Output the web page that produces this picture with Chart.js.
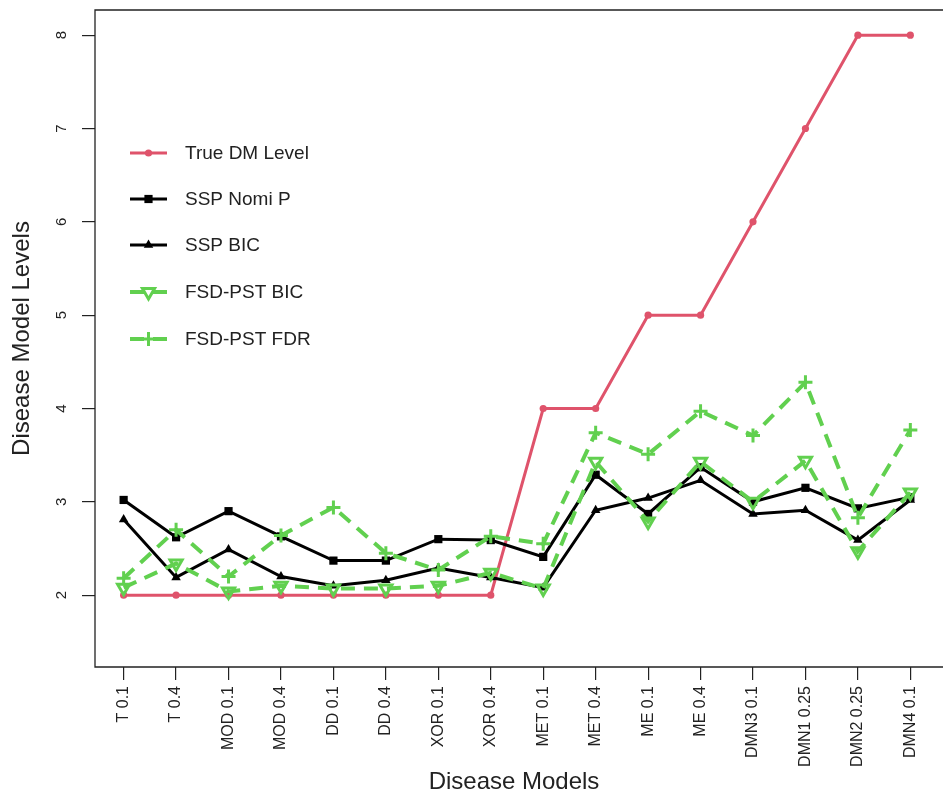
<!DOCTYPE html>
<html><head><meta charset="utf-8">
<script src="https://cdn.jsdelivr.net/npm/chart.js@4"></script>
<style>html,body{margin:0;padding:0;background:#fff}canvas{display:block}</style>
</head><body>
<canvas id="c" width="943" height="798"></canvas>
<script>
const categories = ['T 0.1','T 0.4','MOD 0.1','MOD 0.4','DD 0.1','DD 0.4','XOR 0.1','XOR 0.4','MET 0.1','MET 0.4','ME 0.1','ME 0.4','DMN3 0.1','DMN1 0.25','DMN2 0.25','DMN4 0.1'];
const yTickValues = [2,3,4,5,6,7,8];
const seriesNames = ['True DM Level','SSP Nomi P','SSP BIC','FSD-PST BIC','FSD-PST FDR'];
const trueDM   = [2,2,2,2,2,2,2,2,4,4,5,5,6,7,8,8];
const sspNomiP = [3.02,2.62,2.90,2.63,2.37,2.37,2.60,2.59,2.41,3.29,2.87,3.37,3.00,3.15,2.93,3.05];
const sspBIC   = [2.81,2.19,2.49,2.20,2.10,2.16,2.29,2.19,2.08,2.91,3.04,3.23,2.87,2.91,2.59,3.02];
const fsdBIC   = [2.08,2.34,2.04,2.10,2.07,2.07,2.10,2.24,2.07,3.43,2.79,3.43,3.00,3.44,2.47,3.10];
const fsdFDR   = [2.18,2.70,2.20,2.64,2.94,2.45,2.27,2.63,2.55,3.74,3.51,3.97,3.71,4.28,2.83,3.77];

const RED='#DF536B', GREEN='#61D04F', BLACK='#000000', TXT='#222222';
const FONT='"Liberation Sans", Arial, sans-serif';
const pts = arr => arr.map((v,i)=>({x:i,y:v}));

const datasets = [
  {label:seriesNames[0], data:pts(trueDM), borderColor:RED, backgroundColor:RED, borderWidth:3,
   pointStyle:'circle', pointRadius:3.6, pointBackgroundColor:RED, pointBorderColor:RED, pointBorderWidth:0, order:5},
  {label:seriesNames[1], data:pts(sspNomiP), borderColor:BLACK, backgroundColor:BLACK, borderWidth:3,
   pointStyle:'rect', pointRadius:5.8, pointBackgroundColor:BLACK, pointBorderColor:BLACK, pointBorderWidth:0, order:4},
  {label:seriesNames[2], data:pts(sspBIC), borderColor:BLACK, backgroundColor:BLACK, borderWidth:3,
   pointStyle:'triangle', pointRadius:5.5, pointBackgroundColor:BLACK, pointBorderColor:BLACK, pointBorderWidth:0, order:3},
  {label:seriesNames[3], data:pts(fsdBIC), borderColor:GREEN, backgroundColor:GREEN, borderWidth:4, borderDash:[14,9],
   pointStyle:'triangle', pointRotation:180, pointRadius:7, pointBackgroundColor:'rgba(0,0,0,0)', pointBorderColor:GREEN, pointBorderWidth:3, order:2},
  {label:seriesNames[4], data:pts(fsdFDR), borderColor:GREEN, backgroundColor:GREEN, borderWidth:4, borderDash:[14,9],
   pointStyle:'cross', pointRadius:7, pointBackgroundColor:GREEN, pointBorderColor:GREEN, pointBorderWidth:3, order:1}
];

function drawMarker(ctx, ds, x, y){
  const r = ds.pointRadius, style = ds.pointStyle, rot = (ds.pointRotation||0)*Math.PI/180;
  ctx.save();
  ctx.setLineDash([]);
  ctx.lineWidth = ds.pointBorderWidth;
  ctx.strokeStyle = ds.pointBorderColor;
  ctx.fillStyle = ds.pointBackgroundColor;
  ctx.beginPath();
  if (style==='circle'){ ctx.arc(x,y,r,0,Math.PI*2); }
  else if (style==='rect'){ const s=Math.SQRT1_2*r; ctx.rect(x-s,y-s,2*s,2*s); }
  else if (style==='triangle'){
    let a = rot;
    ctx.moveTo(x+Math.sin(a)*r, y-Math.cos(a)*r);
    a += 2*Math.PI/3; ctx.lineTo(x+Math.sin(a)*r, y-Math.cos(a)*r);
    a += 2*Math.PI/3; ctx.lineTo(x+Math.sin(a)*r, y-Math.cos(a)*r);
    ctx.closePath();
  } else if (style==='cross'){
    ctx.moveTo(x,y-r); ctx.lineTo(x,y+r); ctx.moveTo(x-r,y); ctx.lineTo(x+r,y);
  }
  if (style!=='cross') ctx.fill();
  if (ds.pointBorderWidth>0) ctx.stroke();
  ctx.restore();
}

const framePlugin = {
  id:'frame',
  beforeDatasetsDraw(chart){
    const {ctx, chartArea:a} = chart;
    ctx.save();
    ctx.strokeStyle='#222'; ctx.lineWidth=1.3;
    ctx.beginPath();
    ctx.moveTo(chart.width+2, a.top); ctx.lineTo(a.left, a.top); ctx.lineTo(a.left, a.bottom); ctx.lineTo(chart.width+2, a.bottom);
    ctx.stroke();
    ctx.restore();
  }
};

const yLabelPlugin = {
  id:'ylabels',
  afterDraw(chart){
    const {ctx} = chart; const s = chart.scales.y;
    ctx.save();
    ctx.fillStyle=TXT; ctx.font='15px '+FONT; ctx.textAlign='center'; ctx.textBaseline='middle';
    yTickValues.forEach(v=>{
      const y = s.getPixelForValue(v);
      ctx.save(); ctx.translate(62,y); ctx.rotate(-Math.PI/2); ctx.fillText(String(v),0,0); ctx.restore();
    });
    ctx.restore();
  }
};

const legendPlugin = {
  id:'customLegend',
  afterDraw(chart){
    const {ctx} = chart;
    const ys = [153,199,245,292,339];
    chart.data.datasets.forEach((ds,i)=>{
      const y = ys[i];
      ctx.save();
      ctx.strokeStyle = ds.borderColor; ctx.lineWidth = ds.borderWidth;
      ctx.setLineDash(ds.borderDash||[]);
      ctx.beginPath(); ctx.moveTo(130,y); ctx.lineTo(167,y); ctx.stroke();
      ctx.restore();
      drawMarker(ctx, ds, 148.5, y);
      ctx.save();
      ctx.fillStyle=TXT; ctx.font='19px '+FONT; ctx.textAlign='left'; ctx.textBaseline='middle';
      ctx.fillText(ds.label, 185, y+1);
      ctx.restore();
    });
  }
};

new Chart(document.getElementById('c'), {
  type:'line',
  data:{datasets},
  options:{
    responsive:false, animation:false,
    layout:{padding:{top:8,right:0,bottom:0,left:0}},
    elements:{line:{tension:0, fill:false}},
    plugins:{legend:{display:false}, tooltip:{enabled:false}},
    scales:{
      x:{type:'linear', min:-0.546, max:15.432,
        afterBuildTicks:s=>{ s.ticks = categories.map((c,i)=>({value:i})); },
        afterFit:s=>{ s.height = 131; },
        ticks:{autoSkip:false, minRotation:90, maxRotation:90, padding:6, color:TXT,
               font:{family:FONT,size:16}, callback:v=>categories[v]},
        grid:{drawOnChartArea:false, drawTicks:true, tickLength:13, color:'#222', lineWidth:1.2},
        border:{display:false},
        title:{display:true, text:'Disease Models', color:TXT, font:{family:FONT,size:24}, padding:{top:0,bottom:1}}
      },
      y:{type:'linear', min:1.23, max:8.27,
        afterBuildTicks:s=>{ s.ticks = yTickValues.map(v=>({value:v})); },
        afterFit:s=>{ s.width = 95; },
        ticks:{display:false},
        grid:{drawOnChartArea:false, drawTicks:true, tickLength:13, color:'#222', lineWidth:1.2},
        border:{display:false},
        title:{display:true, text:'Disease Model Levels', color:TXT, font:{family:FONT,size:24}, padding:{top:8,bottom:0}}
      }
    }
  },
  plugins:[framePlugin, yLabelPlugin, legendPlugin]
});
</script>
</body></html>
